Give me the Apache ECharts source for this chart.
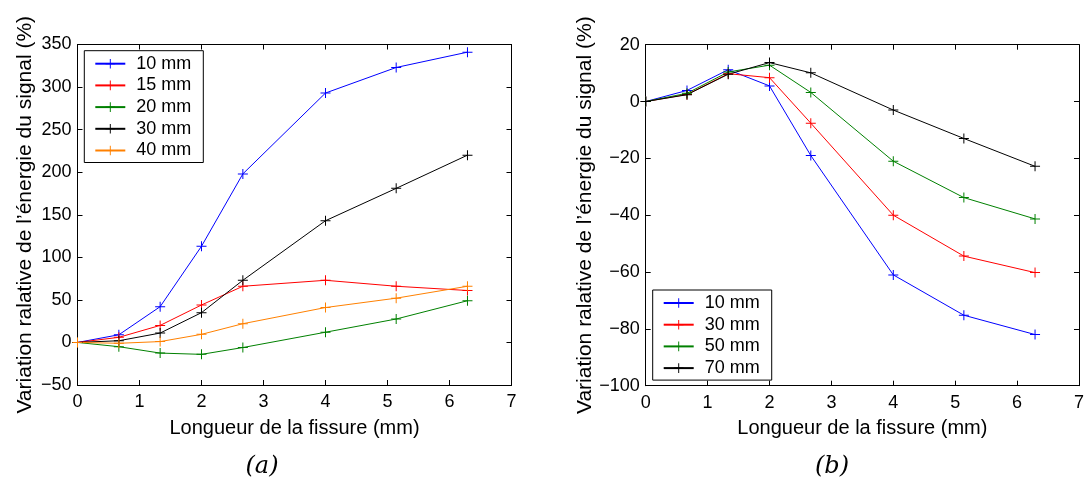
<!DOCTYPE html>
<html><head><meta charset="utf-8">
<script src="https://cdn.jsdelivr.net/npm/echarts@6/dist/echarts.min.js"></script>
<style>html,body{margin:0;padding:0;background:#fff}#c{width:1087px;height:481px}</style>
</head><body><div id="c"></div>
<script>
// ---- data ----
const xValues = [0, 0.667, 1.333, 2, 2.667, 4, 5.14, 6.29];
const xTicks = [0, 1, 2, 3, 4, 5, 6, 7];
const yTicksA = [-50, 0, 50, 100, 150, 200, 250, 300, 350];
const yTicksB = [-100, -80, -60, -40, -20, 0, 20];

const namesA = ['10 mm', '15 mm', '20 mm', '30 mm', '40 mm'];
const a10 = [0, 9, 42, 113, 198, 293, 323, 341];
const a15 = [0, 6, 20, 44, 66, 73, 66, 61];
const a20 = [0, -5, -12.5, -14, -6, 12, 27.5, 49];
const a30 = [0, 2, 11, 35, 73, 143, 181, 220];
const a40 = [0, -1, 1, 9.5, 22, 41, 52, 66];

const namesB = ['10 mm', '30 mm', '50 mm', '70 mm'];
const b10 = [0, 3.9, 11.2, 5.5, -19, -61, -75.2, -82];
const b30 = [0, 2.5, 9.8, 8.4, -7.6, -40, -54.4, -60.2];
const b50 = [0, 2.9, 10.4, 12.8, 3.2, -21, -33.8, -41.3];
const b70 = [0, 2.4, 9.6, 13.7, 10.1, -3, -13, -22.8];

const colorsA = ['#0000ff', '#ff0000', '#008000', '#000000', '#ff8000'];
const colorsB = ['#0000ff', '#ff0000', '#008000', '#000000'];

// ---- chart ----
const FONT = 'Liberation Sans, Arial, sans-serif';
const plus = 'path://M4.5,0H5.5V4.5H10V5.5H5.5V10H4.5V5.5H0V4.5H4.5Z';
const minus = v => String(v).replace('-', '\u2212');

function pairs(ys) { return xValues.map((x, i) => [x, ys[i]]); }

function xAxes(gi) {
  return [
    { gridIndex: gi, type: 'value', min: 0, max: 7, interval: 1, position: 'bottom',
      axisLine: { show: true, onZero: false, lineStyle: { color: '#000', width: 1 } },
      axisTick: { show: true, inside: true, length: 5, lineStyle: { color: '#000' } },
      axisLabel: { color: '#000', fontFamily: FONT, fontSize: 18, margin: 8 },
      splitLine: { show: false },
      name: 'Longueur de la fissure (mm)', nameLocation: 'middle', nameGap: 33,
      nameTextStyle: { color: '#000', fontFamily: FONT, fontSize: 20 } },
    { gridIndex: gi, type: 'value', min: 0, max: 7, interval: 1, position: 'top',
      axisLine: { show: true, onZero: false, lineStyle: { color: '#000', width: 1 } },
      axisTick: { show: true, inside: true, length: 5, lineStyle: { color: '#000' } },
      axisLabel: { show: false }, splitLine: { show: false } }
  ];
}
function yAxes(gi, min, max, interval) {
  return [
    { gridIndex: gi, type: 'value', min, max, interval, position: 'left',
      axisLine: { show: true, onZero: false, lineStyle: { color: '#000', width: 1 } },
      axisTick: { show: true, inside: true, length: 5, lineStyle: { color: '#000' } },
      axisLabel: { color: '#000', fontFamily: FONT, fontSize: 18, margin: 6, formatter: minus },
      splitLine: { show: false },
      name: 'Variation ralative de l\u2019énergie du signal (%)', nameLocation: 'middle', nameGap: 42,
      nameTextStyle: { color: '#000', fontFamily: FONT, fontSize: 21 } },
    { gridIndex: gi, type: 'value', min, max, interval, position: 'right',
      axisLine: { show: true, onZero: false, lineStyle: { color: '#000', width: 1 } },
      axisTick: { show: true, inside: true, length: 5, lineStyle: { color: '#000' } },
      axisLabel: { show: false }, splitLine: { show: false } }
  ];
}
function mkSeries(prefix, names, arrs, colors, xi, yi) {
  return names.map((n, i) => ({
    name: prefix + n, type: 'line', xAxisIndex: xi, yAxisIndex: yi,
    data: pairs(arrs[i]), symbol: plus, symbolSize: 10, showAllSymbol: true,
    lineStyle: { color: colors[i], width: 1 },
    itemStyle: { color: colors[i] },
    animation: false
  }));
}
function legend(prefix, names, left, top) {
  return {
    orient: 'vertical', left, top,
    data: names.map(n => prefix + n),
    formatter: n => n.slice(prefix.length),
    itemWidth: 30, itemHeight: 12, itemGap: 1.7,
    padding: [3, 12, 2, 10],
    borderColor: '#000', borderWidth: 1, backgroundColor: '#fff', borderRadius: 0,
    selectedMode: false,
    textStyle: { color: '#000', fontFamily: FONT, fontSize: 18, lineHeight: 20, padding: [0, 0, 0, 6] }
  };
}

const chart = echarts.init(document.getElementById('c'), null, { renderer: 'canvas' });
chart.setOption({
  backgroundColor: '#fff',
  animation: false,
  grid: [
    { left: 77.5, top: 44.5, width: 434, height: 340.5, containLabel: false },
    { left: 645.7, top: 44.7, width: 434.3, height: 341, containLabel: false }
  ],
  xAxis: [...xAxes(0), ...xAxes(1)],
  yAxis: [...yAxes(0, -50, 350, 50), ...yAxes(1, -100, 20, 20)],
  legend: [legend('a', namesA, 84.3, 50.7), legend('b', namesB, 652.7, 290)],
  series: [
    ...mkSeries('a', namesA, [a10, a15, a20, a30, a40], colorsA, 0, 0),
    ...mkSeries('b', namesB, [b10, b30, b50, b70], colorsB, 2, 2)
  ],
  graphic: [
    { type: 'text', x: 262, y: 467, style: { text: '(a)', font: 'italic 24px "DejaVu Serif", serif', fill: '#000', align: 'center', verticalAlign: 'middle' } },
    { type: 'text', x: 832, y: 467, style: { text: '(b)', font: 'italic 24px "DejaVu Serif", serif', fill: '#000', align: 'center', verticalAlign: 'middle' } }
  ]
});
</script></body></html>
